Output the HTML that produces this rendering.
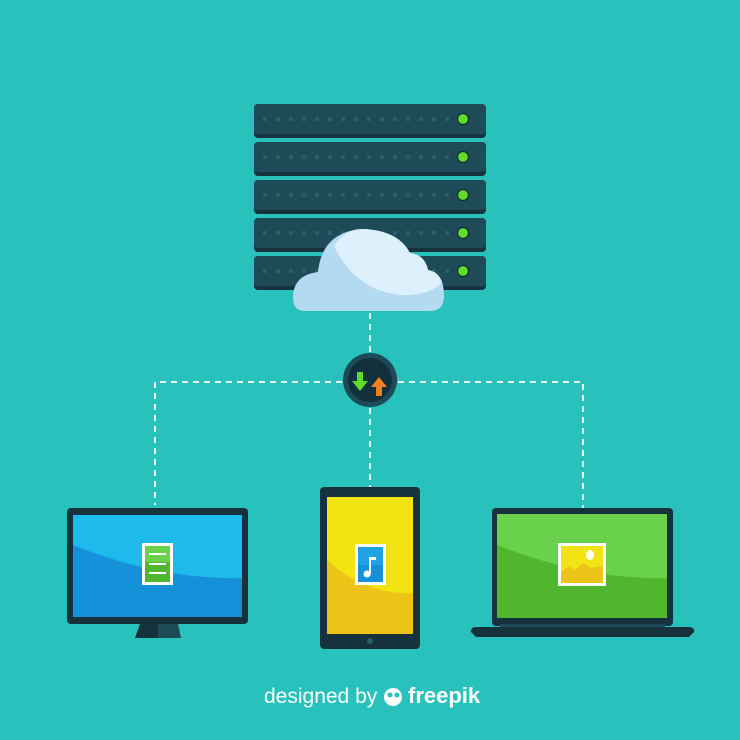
<!DOCTYPE html>
<html><head><meta charset="utf-8"><style>html,body{margin:0;padding:0;background:#29c1bc;width:740px;height:740px;overflow:hidden}</style></head>
<body>
<svg width="740" height="740" viewBox="0 0 740 740" xmlns="http://www.w3.org/2000/svg">
<rect width="740" height="740" fill="#29c1bc"/>
<defs>
<g id="srv">
<rect x="254" y="0" width="232" height="34" rx="4" fill="#15323d"/>
<rect x="254" y="0" width="232" height="30" rx="4" fill="#1f4b59"/>
<g fill="#2b5e6b">
<rect x="263" y="13" width="4" height="4"/><rect x="276" y="13" width="4" height="4"/><rect x="289" y="13" width="4" height="4"/><rect x="302" y="13" width="4" height="4"/><rect x="315" y="13" width="4" height="4"/><rect x="328" y="13" width="4" height="4"/><rect x="341" y="13" width="4" height="4"/><rect x="354" y="13" width="4" height="4"/><rect x="367" y="13" width="4" height="4"/><rect x="380" y="13" width="4" height="4"/><rect x="393" y="13" width="4" height="4"/><rect x="406" y="13" width="4" height="4"/><rect x="419" y="13" width="4" height="4"/><rect x="432" y="13" width="4" height="4"/><rect x="445" y="13" width="4" height="4"/>
</g>
<circle cx="463" cy="15" r="5.5" fill="#5fdc2a" stroke="#0f2a32" stroke-width="1.2"/>
</g>
</defs>
<use href="#srv" y="104"/><use href="#srv" y="142"/><use href="#srv" y="180"/><use href="#srv" y="218"/><use href="#srv" y="256"/>
<!-- cloud -->
<path d="M305 311 Q293 311 293 298 Q293 275 318 272 Q322 232 362 229 Q398 230 410 253 Q425 255 428 270 Q444 272 444 296 Q444 311 430 311 Z" fill="#b3daf1"/>
<path d="M334 246 Q345 229 362 229 Q398 230 410 253 Q425 255 428 270 Q438 272 442 282 Q430 296 400 295 Q355 290 334 246 Z" fill="#ddf1fd"/>
<!-- dashed lines -->
<g stroke="#e9f7f6" stroke-width="2" stroke-dasharray="6 5" fill="none">
<path d="M370 313 V354"/>
<path d="M342 382 H155 V505"/>
<path d="M398 382 H583 V508"/>
<path d="M370 408 V487"/>
</g>
<circle cx="370" cy="380" r="27" fill="#1f4b59"/>
<circle cx="370" cy="380" r="22" fill="#12303c"/>
<path d="M357 372 h6 v9 h5 l-8 10 l-8 -10 h5z" fill="#5fdc2a"/>
<path d="M376 396 h6 v-9 h5 l-8 -10 l-8 10 h5z" fill="#f47d20"/>
<!-- monitor -->
<path d="M140 624 h38 l3 14 h-46z" fill="#1f4b59"/>
<path d="M140 624 h18 v14 h-23z" fill="#15323d"/>
<rect x="67" y="508" width="181" height="116" rx="4" fill="#15323d"/>
<rect x="73" y="515" width="169" height="102" fill="#1591d9"/>
<path d="M73 515 H242 V578 Q160 580 73 545 Z" fill="#1fbaec"/>
<rect x="142" y="543" width="31" height="42" fill="#fff"/>
<rect x="145" y="546" width="25" height="36" fill="#4fb62e"/>
<rect x="145" y="546" width="25" height="16" fill="#6ad14c"/>
<g stroke="#fff" stroke-width="2"><path d="M149 554h17M149 564h17M149 573h17"/></g>
<!-- tablet -->
<rect x="320" y="487" width="100" height="162" rx="4" fill="#15323d"/>
<rect x="327" y="497" width="86" height="137" fill="#ecc317"/>
<path d="M327 497 H413 V593 Q365 595 327 560 Z" fill="#f2e313"/>
<circle cx="370" cy="641" r="3" fill="#2b5e6b"/>
<rect x="355" y="544" width="31" height="41" fill="#fff"/>
<rect x="358" y="547" width="25" height="35" fill="#1591d9"/>
<rect x="358" y="547" width="25" height="18" fill="#1fa3e4"/>
<circle cx="367" cy="574" r="3.5" fill="#fff"/><path d="M369 574 V557 h7 v3 h-5 V574" fill="#fff"/>
<!-- laptop -->
<rect x="492" y="508" width="181" height="118" rx="4" fill="#15323d"/>
<rect x="497" y="514" width="170" height="104" fill="#4fb62e"/>
<path d="M497 514 H667 V578 Q585 580 497 545 Z" fill="#6ad14c"/>
<path d="M475 627 H690 Q695 628 694 632 L689 637 H476 L471 632 Q471 627 475 627Z" fill="#15323d"/>
<rect x="500" y="624" width="165" height="3" fill="#1f4b59"/>
<rect x="558" y="543" width="48" height="43" fill="#fff"/>
<rect x="561" y="546" width="42" height="37" fill="#f2e313"/>
<path d="M561 583 V572 l8 -6 l6 4 l8 -7 l8 5 l12 -2 V583Z" fill="#ecc317"/>
<ellipse cx="590" cy="555" rx="4" ry="5" fill="#fff"/>
<text x="264" y="703" font-family="Liberation Sans, sans-serif" font-size="21" fill="#fff">designed by</text>
<circle cx="393" cy="697" r="9" fill="#fff"/><circle cx="390" cy="695" r="2.5" fill="#29c1bc"/><circle cx="397" cy="695" r="2.5" fill="#29c1bc"/>
<text x="408" y="703" font-family="Liberation Sans, sans-serif" font-size="22" font-weight="bold" fill="#fff">freepik</text>
</svg>
</body></html>
